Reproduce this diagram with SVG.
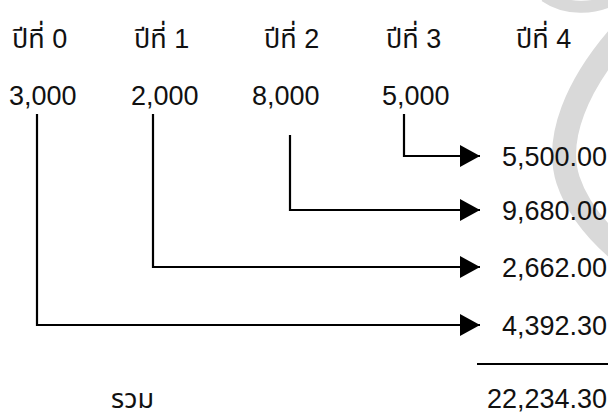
<svg xmlns="http://www.w3.org/2000/svg" width="608" height="416" viewBox="0 0 608 416">
  <style>
    .t { font-family: "Liberation Sans", "Noto Sans Thai", "DejaVu Sans", sans-serif; font-size: 27px; fill: #111; }
    .r { text-anchor: end; }
    .c { fill: none; stroke: #000; stroke-width: 2.2; }
    .wm { fill: none; stroke: #d9d9d9; }
  </style>
  <defs>
    <marker id="ah" markerUnits="userSpaceOnUse" markerWidth="22" markerHeight="24" refX="20" refY="11" orient="auto">
      <path d="M0,0 L20,11 L0,22 Z" fill="#000"/>
    </marker>
  </defs>
  <rect width="608" height="416" fill="#fff"/>
  <g id="watermark">
    <path class="wm" stroke-width="24" d="M625,30 C575,85 555,140 568,180 C578,210 600,235 625,255"/>
    <path class="wm" stroke-width="12" d="M545,-4 C565,10 595,10 615,-2"/>
  </g>
  <g id="headers">
    <text class="t" x="12" y="48">ปีที่ 0</text>
    <text class="t" x="134" y="48">ปีที่ 1</text>
    <text class="t" x="264" y="48">ปีที่ 2</text>
    <text class="t" x="386" y="48">ปีที่ 3</text>
    <text class="t" x="516" y="48">ปีที่ 4</text>
  </g>
  <g id="values">
    <text class="t" x="9" y="105">3,000</text>
    <text class="t" x="131" y="105">2,000</text>
    <text class="t" x="252" y="105">8,000</text>
    <text class="t" x="382" y="105">5,000</text>
  </g>
  <g id="results">
    <text class="t r" x="607" y="166">5,500.00</text>
    <text class="t r" x="607" y="220">9,680.00</text>
    <text class="t r" x="607" y="277">2,662.00</text>
    <text class="t r" x="607" y="335">4,392.30</text>
  </g>
  <g id="total">
    <line x1="477" y1="364" x2="608" y2="364" stroke="#000" stroke-width="2.2"/>
    <text class="t" x="111" y="408">รวม</text>
    <text class="t r" x="607" y="408">22,234.30</text>
  </g>
  <g id="connectors">
    <path class="c" d="M404,114 V156 H480" marker-end="url(#ah)"/>
    <path class="c" d="M290,135 V210 H480" marker-end="url(#ah)"/>
    <path class="c" d="M153,114 V267 H480" marker-end="url(#ah)"/>
    <path class="c" d="M37,114 V325 H480" marker-end="url(#ah)"/>
  </g>
</svg>
